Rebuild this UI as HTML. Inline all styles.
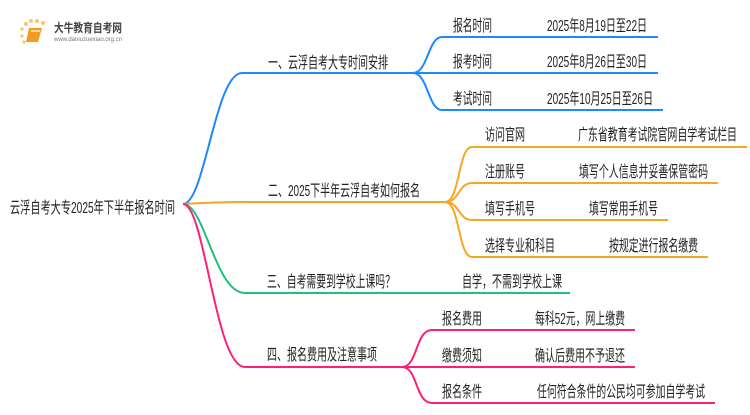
<!DOCTYPE html>
<html><head><meta charset="utf-8"><style>
html,body{margin:0;padding:0;background:#fff;}
svg text{font-family:"Liberation Sans","Noto Sans CJK SC",sans-serif;font-size:16px;fill:#222;}
</style></head><body>
<svg width="750" height="410" viewBox="0 0 750 410" xmlns="http://www.w3.org/2000/svg">
<g>
<circle cx="26" cy="24" r="2" fill="#f8c46a"/><circle cx="31" cy="21" r="2" fill="#f8c46a"/><circle cx="37" cy="21" r="2" fill="#f8c46a"/><circle cx="43" cy="23" r="2" fill="#f8c46a"/><circle cx="22" cy="29" r="1.6" fill="#f8c46a"/><circle cx="22" cy="36" r="1.6" fill="#f8c46a"/><circle cx="24" cy="42" r="1.6" fill="#f8c46a"/>
<path d="M29 28 L42 28 L38 42 L26 42 Z" fill="#f29a1e"/>
<path d="M31 31 L40 31" stroke="#fff" stroke-width="1.2"/>
<text x="54" y="32" textLength="68" lengthAdjust="spacingAndGlyphs" style="font-size:12px;fill:#444;font-weight:bold">大牛教育自考网</text>
<text x="54" y="41" textLength="68" lengthAdjust="spacingAndGlyphs" style="font-size:6px;fill:#777">www.daniuzuexiao.org.cn</text>
</g>
<g fill="none" stroke-width="2">
<path d="M183 204 C205 204, 215 73, 242 73 L413 73" stroke="#1e88ff"/>
<path d="M413 73 C428 73, 428 37, 442 37 L658 37" stroke="#1e88ff"/>
<path d="M413 73 L658 73" stroke="#1e88ff"/>
<path d="M413 73 C428 73, 428 110, 442 110 L663 110" stroke="#1e88ff"/>
<path d="M183 204 C200 203, 215 202, 245 202 L445 202" stroke="#f5a623"/>
<path d="M445 202 C460 202, 458 147, 472 147 L747 147" stroke="#f5a623"/>
<path d="M445 202 C460 202, 458 183, 472 183 L718 183" stroke="#f5a623"/>
<path d="M445 202 C460 202, 458 220, 472 220 L668 220" stroke="#f5a623"/>
<path d="M445 202 C460 202, 458 257, 472 257 L708 257" stroke="#f5a623"/>
<path d="M183 204 C205 204, 215 293, 245 293 L570 293" stroke="#1fc07a"/>
<path d="M183 204 C205 204, 215 367, 245 367 L402 367" stroke="#ff1f78"/>
<path d="M402 367 C418 367, 415 330, 432 330 L635 330" stroke="#ff1f78"/>
<path d="M402 367 L635 367" stroke="#ff1f78"/>
<path d="M402 367 C418 367, 415 403, 432 403 L715 403" stroke="#ff1f78"/>
</g>
<g>
<text x="10" y="213" textLength="165" lengthAdjust="spacingAndGlyphs">云浮自考大专2025年下半年报名时间</text>
<text x="268" y="68" textLength="120" lengthAdjust="spacingAndGlyphs">一、云浮自考大专时间安排</text>
<text x="268" y="196" textLength="152" lengthAdjust="spacingAndGlyphs">二、2025下半年云浮自考如何报名</text>
<text x="267" y="287" textLength="128" lengthAdjust="spacingAndGlyphs">三、自考需要到学校上课吗？</text>
<text x="267" y="360" textLength="110" lengthAdjust="spacingAndGlyphs">四、报名费用及注意事项</text>
<text x="453" y="31" textLength="39" lengthAdjust="spacingAndGlyphs">报名时间</text><text x="547" y="31" textLength="100" lengthAdjust="spacingAndGlyphs">2025年8月19日至22日</text>
<text x="453" y="67" textLength="39" lengthAdjust="spacingAndGlyphs">报考时间</text><text x="547" y="67" textLength="100" lengthAdjust="spacingAndGlyphs">2025年8月26日至30日</text>
<text x="453" y="104" textLength="39" lengthAdjust="spacingAndGlyphs">考试时间</text><text x="547" y="104" textLength="106" lengthAdjust="spacingAndGlyphs">2025年10月25日至26日</text>
<text x="485" y="140" textLength="40" lengthAdjust="spacingAndGlyphs">访问官网</text><text x="578" y="140" textLength="159" lengthAdjust="spacingAndGlyphs">广东省教育考试院官网自学考试栏目</text>
<text x="485" y="177" textLength="40" lengthAdjust="spacingAndGlyphs">注册账号</text><text x="579" y="177" textLength="129" lengthAdjust="spacingAndGlyphs">填写个人信息并妥善保管密码</text>
<text x="485" y="214" textLength="50" lengthAdjust="spacingAndGlyphs">填写手机号</text><text x="589" y="214" textLength="69" lengthAdjust="spacingAndGlyphs">填写常用手机号</text>
<text x="485" y="251" textLength="70" lengthAdjust="spacingAndGlyphs">选择专业和科目</text><text x="609" y="251" textLength="89" lengthAdjust="spacingAndGlyphs">按规定进行报名缴费</text>
<text x="462" y="287" textLength="100" lengthAdjust="spacingAndGlyphs">自学，不需到学校上课</text>
<text x="442" y="324" textLength="40" lengthAdjust="spacingAndGlyphs">报名费用</text><text x="535" y="324" textLength="90" lengthAdjust="spacingAndGlyphs">每科52元，网上缴费</text>
<text x="442" y="361" textLength="40" lengthAdjust="spacingAndGlyphs">缴费须知</text><text x="535" y="361" textLength="90" lengthAdjust="spacingAndGlyphs">确认后费用不予退还</text>
<text x="442" y="397" textLength="40" lengthAdjust="spacingAndGlyphs">报名条件</text><text x="537" y="397" textLength="168" lengthAdjust="spacingAndGlyphs">任何符合条件的公民均可参加自学考试</text>
</g>
</svg>
</body></html>
